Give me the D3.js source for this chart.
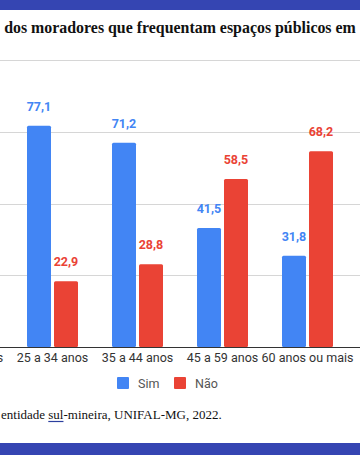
<!DOCTYPE html>
<html><head><meta charset="utf-8">
<script src="https://cdn.jsdelivr.net/npm/d3@7"></script>
<style>
html,body{margin:0;padding:0;background:#fff;overflow:hidden}
svg{display:block}
</style></head>
<body>
<svg id="chart" width="360" height="455"></svg>
<script>
const categories = ["18 a 24 anos", "25 a 34 anos", "35 a 44 anos", "45 a 59 anos", "60 anos ou mais"];
const simValues = [null, 77.1, 71.2, 41.5, 31.8];
const naoValues = [null, 22.9, 28.8, 58.5, 68.2];
const seriesNames = ["Sim", "Não"];
const seriesColors = ["#4285f4", "#ea4335"];
const yTicks = [0, 25, 50, 75, 100];
const titleText = "dos moradores que frequentam espaços públicos em";

const svg = d3.select("#chart");
const W = 360, H = 455;

// top and bottom bands
svg.append("rect").attr("x",0).attr("y",0).attr("width",W).attr("height",10).attr("fill","#3545b2");
svg.append("rect").attr("x",0).attr("y",443).attr("width",W).attr("height",12).attr("fill","#3545b2");

// title
const title = svg.append("text").attr("x",180).attr("y",33).attr("text-anchor","middle")
  .attr("font-family","'Liberation Serif','Times New Roman',serif").attr("font-weight","bold")
  .attr("font-size",16).attr("fill","#111").text(titleText);
{
  const w = title.node().getComputedTextLength();
  title.attr("font-size", 16 * 352 / w);
}

const x0 = d3.scaleBand().domain(categories).range([-75, 350]).paddingInner(0).paddingOuter(0);
const x1 = d3.scaleBand().domain(seriesNames).range([-25.5, 25.5]).paddingInner(3/27).paddingOuter(0);
const y = d3.scaleLinear().domain([0, 100]).range([347, 60]);

// gridlines
const grid = svg.append("g");
grid.selectAll("line").data(yTicks.filter(t => t > 0)).join("line")
  .attr("x1", 0).attr("x2", W)
  .attr("y1", d => Math.round(y(d)) + 0.5).attr("y2", d => Math.round(y(d)) + 0.5)
  .attr("stroke", "#d6d6d6").attr("stroke-width", 1);

const rows = categories.map((c, i) => ({cat: c, vals: [simValues[i], naoValues[i]]}));

const groups = svg.append("g").selectAll("g").data(rows).join("g")
  .attr("transform", d => `translate(${x0(d.cat) + x0.bandwidth()/2},0)`);

const items = d => d.vals.map((v, j) => ({name: seriesNames[j], v, color: seriesColors[j]})).filter(e => e.v != null);

groups.selectAll("rect").data(items).join("rect")
  .attr("x", d => x1(d.name)).attr("width", x1.bandwidth())
  .attr("y", d => y(d.v)).attr("height", d => y(0) - y(d.v))
  .attr("rx", 1.5).attr("fill", d => d.color);

groups.selectAll("text.lbl").data(items).join("text").attr("class","lbl")
  .attr("x", d => x1(d.name) + x1.bandwidth()/2).attr("y", d => y(d.v) - 15)
  .attr("text-anchor","middle").attr("font-family","Roboto, Arial, sans-serif")
  .attr("font-weight","bold").attr("font-size",12.5).attr("fill", d => d.color)
  .text(d => d3.format(".1f")(d.v).replace(".", ","));

// baseline
svg.append("line").attr("x1",0).attr("x2",W).attr("y1",347.5).attr("y2",347.5)
  .attr("stroke","#333").attr("stroke-width",1);

// x axis labels
const xAxis = d3.axisBottom(x0).tickSize(0).tickPadding(0);
const gx = svg.append("g").attr("transform","translate(0,349)").call(xAxis);
gx.select(".domain").remove();
gx.selectAll("text").attr("font-family","Roboto, Arial, sans-serif").attr("font-size",12.5)
  .attr("fill","#333").attr("dy","0.71em").attr("y",4);

// legend
const legend = svg.append("g").attr("transform","translate(117,377)");
const lx = [0, 57];
seriesNames.forEach((n, i) => {
  const g = legend.append("g").attr("transform", `translate(${lx[i]},0)`);
  g.append("rect").attr("width",12).attr("height",12).attr("rx",1).attr("fill",seriesColors[i]);
  g.append("text").attr("x",21).attr("y",10.5).attr("font-family","Roboto, Arial, sans-serif")
    .attr("font-size",12.5).attr("fill","#555").text(n);
});

// source
const src = svg.append("text").attr("x",1).attr("y",419).attr("text-anchor","start")
  .attr("font-family","'Liberation Serif','Times New Roman',serif").attr("font-size",14).attr("fill","#111");
src.append("tspan").text("entidade ");
src.append("tspan").text("sul");
src.append("tspan").text("-mineira, UNIFAL-MG, 2022.");
{
  const w = src.node().getComputedTextLength();
  src.attr("font-size", 14 * 221 / w);
  const n = src.node();
  const a = n.getSubStringLength(0, 9);
  const b = n.getSubStringLength(0, 12);
  svg.append("line").attr("x1", 1 + a).attr("x2", 1 + b).attr("y1", 421.5).attr("y2", 421.5)
    .attr("stroke", "#2b3f9e").attr("stroke-width", 1.2);
}
</script>
</body></html>
